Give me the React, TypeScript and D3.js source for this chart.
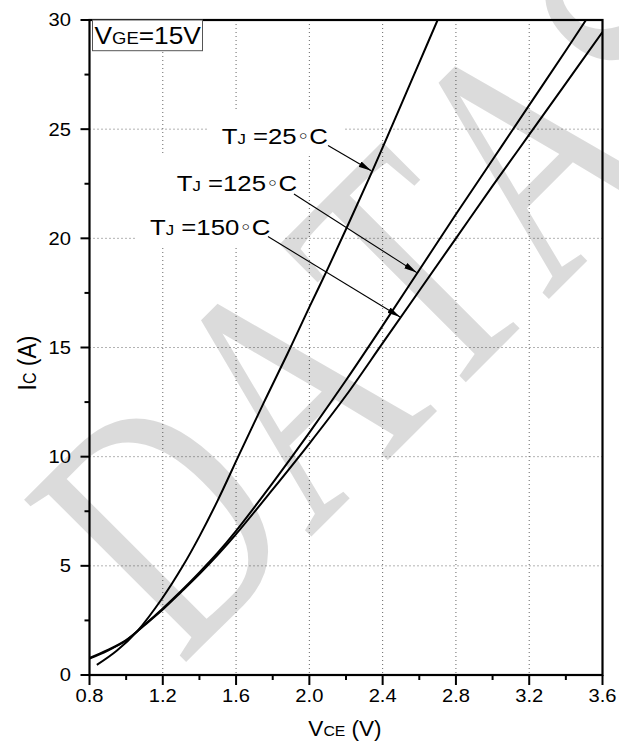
import React from "react";
import * as d3 from "d3";

// Collector current vs. collector-emitter voltage, three junction temperatures
const vce25 = [0.84, 0.95, 1.06, 1.2, 1.31, 1.4, 1.5, 1.62, 1.75, 1.88, 2.0, 2.1, 2.21, 2.35, 2.5, 2.6, 2.7];
const ic25 = [0.46, 1.12, 2.0, 3.55, 5.0, 6.35, 8.0, 10.15, 12.45, 14.7, 16.85, 18.6, 20.6, 23.2, 26.1, 28.05, 30.0];

const vce125 = [0.8, 0.9, 1.0, 1.1, 1.2, 1.3, 1.4, 1.5, 1.6, 1.8, 2.0, 2.2, 2.4, 2.6, 2.8, 3.0, 3.2, 3.4, 3.51];
const ic125 = [0.78, 1.15, 1.6, 2.3, 3.05, 3.85, 4.7, 5.6, 6.6, 8.8, 11.1, 13.5, 16.0, 18.55, 21.1, 23.6, 26.1, 28.6, 30.0];

const vce150 = [0.8, 0.9, 1.0, 1.1, 1.2, 1.3, 1.4, 1.5, 1.6, 1.8, 2.0, 2.2, 2.4, 2.6, 2.8, 3.0, 3.2, 3.4, 3.6];
const ic150 = [0.75, 1.12, 1.58, 2.28, 3.0, 3.8, 4.62, 5.5, 6.45, 8.5, 10.6, 12.8, 15.2, 17.6, 20.0, 22.4, 24.75, 27.1, 29.45];

const xTicks = [0.8, 1.2, 1.6, 2.0, 2.4, 2.8, 3.2, 3.6];
const xMinorTicks = [1.0, 1.4, 1.8, 2.2, 2.6, 3.0, 3.4];
const yTicks = [0, 5, 10, 15, 20, 25, 30];
const yMinorTicks = [2.5, 7.5, 12.5, 17.5, 22.5, 27.5];

// Annotation labels: temperature, arrow start (V, A) and arrow tip (V, A)
const annoTemps = ["25", "125", "150"];
const annoStart = [[2.102, 24.25], [1.916, 22.03], [1.774, 20.08]];
const annoTip = [[2.338, 23.1], [2.586, 18.43], [2.495, 16.4]];

const watermarkLetters = ["D", "A", "T", "A", "S"];
const watermarkCenters = [0.361, 1.083, 1.75, 2.416, 3.055];

const W = 619;
const H = 744;
const L = 89.5, R = 602.5, T = 20, B = 675;
const SX = 1.12;
const FONT = "'Liberation Sans', Arial, Helvetica, sans-serif";

function SText(props: any) {
  const { x, y, anchor = "start", size, sx = SX, rotate, children, ...rest } = props;
  const tr = `translate(${x},${y}) scale(${sx},1)` + (rotate ? ` rotate(${rotate})` : "");
  return (
    <text transform={tr} textAnchor={anchor} fontSize={size} fontFamily={FONT} fill="#000" {...rest}>
      {children}
    </text>
  );
}

export default function App() {
  const x = d3.scaleLinear().domain([0.8, 3.6]).range([L, R]);
  const y = d3.scaleLinear().domain([0, 30]).range([B, T]);

  const line = d3
    .line<[number, number]>()
    .x((d) => x(d[0]))
    .y((d) => y(d[1]))
    .curve(d3.curveCatmullRom.alpha(0.5));

  const series = [
    d3.zip(vce25, ic25) as [number, number][],
    d3.zip(vce125, ic125) as [number, number][],
    d3.zip(vce150, ic150) as [number, number][],
  ];

  // label geometry: text start x, baseline y, and the white backing box
  const labelPos = [[221.7, 144.3], [176.7, 190.5], [150, 234.5]];
  const labelBox = [[208, 343, 110, 153], [162, 305, 153, 200], [136, 283, 200, 247]];

  const F = 350;

  return (
    <svg
      width={W}
      height={H}
      viewBox={`0 0 ${W} ${H}`}
      style={{ position: "absolute", left: 0, top: 0, background: "#fff" }}
    >
      <defs>
        <clipPath id="plotClip">
          <rect x={L} y={T} width={R - L} height={B - T} />
        </clipPath>
        <clipPath id="pageClip">
          <rect x={0} y={0} width={W} height={H} />
        </clipPath>
        <marker
          id="arrowHead"
          markerUnits="userSpaceOnUse"
          markerWidth={14}
          markerHeight={8}
          refX={13}
          refY={4}
          orient="auto"
        >
          <path d="M0,1 L13,4 L0,7 Z" fill="#000" />
        </marker>
      </defs>
      <rect x={0} y={0} width={W} height={H} fill="#fff" />

      {/* dotted grid */}
      <g stroke="#666" strokeWidth={1} strokeDasharray="1,3">
        {xTicks.slice(1, -1).map((t) => (
          <line key={"gx" + t} x1={x(t)} x2={x(t)} y1={T} y2={B} />
        ))}
        {yTicks.slice(1, -1).map((t) => (
          <line key={"gy" + t} x1={L} x2={R} y1={y(t)} y2={y(t)} />
        ))}
      </g>

      {/* label backings */}
      {labelBox.map((b, i) => (
        <rect key={"lb" + i} x={b[0]} y={b[2]} width={b[1] - b[0]} height={b[3] - b[2]} fill="#fff" />
      ))}

      {/* curves */}
      <g clipPath="url(#plotClip)" fill="none" stroke="#000" strokeWidth={2}>
        {series.map((s, i) => (
          <path key={"s" + i} d={line(s) || ""} />
        ))}
      </g>

      {/* frame */}
      <rect x={L} y={T} width={R - L} height={B - T} fill="none" stroke="#000" strokeWidth={2.2} />

      {/* ticks */}
      <g stroke="#000" strokeWidth={2}>
        {yTicks.map((t) => (
          <line key={"ty" + t} x1={L - 9} x2={L} y1={y(t)} y2={y(t)} />
        ))}
        {yMinorTicks.map((t) => (
          <line key={"tym" + t} x1={L - 5} x2={L} y1={y(t)} y2={y(t)} />
        ))}
        {xTicks.map((t) => (
          <line key={"tx" + t} x1={x(t)} x2={x(t)} y1={B} y2={B + 10} />
        ))}
        {xMinorTicks.map((t) => (
          <line key={"txm" + t} x1={x(t)} x2={x(t)} y1={B} y2={B + 5} />
        ))}
      </g>

      {/* tick labels */}
      {yTicks.map((t) => (
        <SText key={"ly" + t} x={71} y={y(t) + 6.4} anchor="end" size={18}>
          {String(t)}
        </SText>
      ))}
      {xTicks.map((t) => (
        <SText key={"lx" + t} x={x(t)} y={702} anchor="middle" size={18}>
          {t.toFixed(1)}
        </SText>
      ))}

      {/* axis titles */}
      <SText x={345} y={736} anchor="middle" size={21.5} sx={1.05}>
        V<tspan fontSize={15}>CE</tspan> (V)
      </SText>
      <SText x={36} y={363} anchor="middle" size={23} rotate={-90}>
        I<tspan fontSize={16}>C</tspan> (A)
      </SText>

      {/* VGE box */}
      <rect x={92.5} y={20} width={110} height={30.7} fill="#fff" stroke="#555" strokeWidth={1} />
      <SText x={94.5} y={44} size={23.5}>
        V<tspan fontSize={16.5}>GE</tspan>=15V
      </SText>

      {/* temperature labels with arrows */}
      {annoTemps.map((tc, i) => (
        <g key={"an" + i}>
          <SText x={labelPos[i][0]} y={labelPos[i][1]} size={23}>
            T<tspan fontSize={15}>J</tspan> =
            {tc}
            <tspan fontFamily="'DejaVu Sans', sans-serif" fontSize={19} dy={-1}>◦</tspan>
            <tspan dy={1}>C</tspan>
          </SText>
          <line
            x1={x(annoStart[i][0])}
            y1={y(annoStart[i][1])}
            x2={x(annoTip[i][0])}
            y2={y(annoTip[i][1])}
            stroke="#000"
            strokeWidth={1.1}
            markerEnd="url(#arrowHead)"
          />
        </g>
      ))}

      {/* watermark */}
      <g clipPath="url(#pageClip)">
        <g
          transform={`translate(181,667) rotate(-45) scale(0.72,1)`}
          fill="#000"
          fillOpacity={0.14}
          fontFamily="'Liberation Serif', 'Times New Roman', serif"
          fontSize={F}
        >
          {watermarkLetters.map((ch, i) => (
            <text key={"wm" + i} x={watermarkCenters[i] * F} y={0} textAnchor="middle">
              {ch}
            </text>
          ))}
        </g>
      </g>
    </svg>
  );
}
